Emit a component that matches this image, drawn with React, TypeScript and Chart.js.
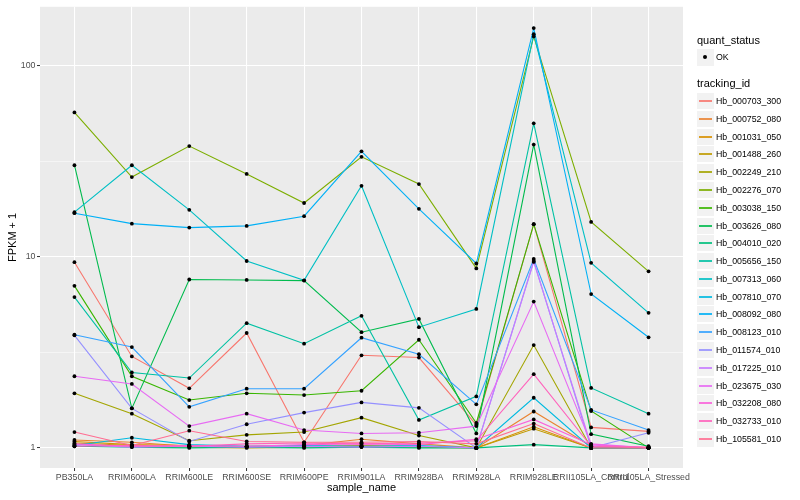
import React, { useEffect, useRef } from 'react';
import { Chart, registerables } from 'chart.js';

Chart.register(...registerables);

const categories = [
  'PB350LA', 'RRIM600LA', 'RRIM600LE', 'RRIM600SE', 'RRIM600PE', 'RRIM901LA',
  'RRIM928BA', 'RRIM928LA', 'RRIM928LE', 'RRII105LA_Control', 'RRII105LA_Stressed',
];

const trackingIds = [
  'Hb_000703_300', 'Hb_000752_080', 'Hb_001031_050', 'Hb_001488_260', 'Hb_002249_210',
  'Hb_002276_070', 'Hb_003038_150', 'Hb_003626_080', 'Hb_004010_020', 'Hb_005656_150',
  'Hb_007313_060', 'Hb_007810_070', 'Hb_008092_080', 'Hb_008123_010', 'Hb_011574_010',
  'Hb_017225_010', 'Hb_023675_030', 'Hb_032208_080', 'Hb_032733_010', 'Hb_105581_010',
];

const colors = [
  '#F8766D', '#EA8331', '#D89000', '#C09B00', '#A3A500', '#7CAE00', '#39B600', '#00BB4E',
  '#00BF7D', '#00C1A3', '#00BFC4', '#00BAE0', '#00B0F6', '#35A2FF', '#9590FF', '#C77CFF',
  '#E76BF3', '#FA62DB', '#FF62BC', '#FF6C91',
];

// FPKM + 1 per sample, one array per tracking_id
const hb000703_300 = [9.36, 3.01, 2.05, 3.99, 1.07, 3.05, 2.97, 1.32, 14.8, 1.28, 1.22];
const hb000752_080 = [1.10, 1.07, 1.02, 1.02, 1.03, 1.11, 1.05, 1.0, 1.55, 1.02, 1.0];
const hb001031_050 = [1.08, 1.04, 1.03, 1.01, 1.02, 1.03, 1.02, 1.0, 1.29, 1.0, 1.0];
const hb001488_260 = [1.06, 1.03, 1.01, 1.0, 1.01, 1.02, 1.01, 1.0, 1.26, 1.0, 1.0];
const hb002249_210 = [1.93, 1.51, 1.09, 1.17, 1.21, 1.44, 1.16, 1.0, 3.45, 1.0, 1.0];
const hb002276_070 = [56.9, 26.1, 37.9, 27.1, 19.1, 33.3, 24.0, 8.69, 142, 15.2, 8.39];
const hb003038_150 = [7.04, 2.37, 1.78, 1.93, 1.89, 1.99, 3.68, 1.35, 14.8, 1.56, 1.0];
const hb003626_080 = [30.1, 1.61, 7.6, 7.56, 7.5, 4.03, 4.73, 1.19, 38.6, 1.18, 1.02];
const hb004010_020 = [1.02, 1.01, 1.0, 1.01, 1.0, 1.01, 1.0, 1.0, 1.04, 1.0, 1.0];
const hb005656_150 = [6.15, 2.48, 2.32, 4.49, 3.51, 4.91, 1.40, 1.86, 49.9, 2.06, 1.51];
const hb007313_060 = [17.1, 30.1, 17.6, 9.5, 7.53, 23.5, 4.28, 5.33, 146, 9.29, 5.09];
const hb007810_070 = [1.03, 1.13, 1.04, 1.02, 1.03, 1.02, 1.03, 1.0, 1.83, 1.0, 1.0];
const hb008092_080 = [16.9, 14.9, 14.2, 14.5, 16.3, 35.6, 17.8, 9.22, 157, 6.38, 3.79];
const hb008123_010 = [3.91, 3.37, 1.64, 2.04, 2.04, 3.77, 3.09, 1.69, 9.73, 1.58, 1.24];
const hb011574_010 = [3.88, 1.61, 1.08, 1.33, 1.53, 1.73, 1.62, 1.0, 9.5, 1.0, 1.2];
const hb017225_010 = [1.04, 1.01, 1.02, 1.01, 1.02, 1.01, 1.02, 1.0, 9.39, 1.03, 1.0];
const hb023675_030 = [2.37, 2.16, 1.30, 1.51, 1.24, 1.19, 1.20, 1.30, 5.83, 1.05, 1.0];
const hb032208_080 = [1.05, 1.02, 1.03, 1.02, 1.04, 1.05, 1.04, 1.11, 1.41, 1.04, 1.0];
const hb032733_010 = [1.02, 1.03, 1.02, 1.05, 1.06, 1.05, 1.06, 1.09, 2.43, 1.02, 1.01];
const hb105581_010 = [1.21, 1.03, 1.23, 1.08, 1.07, 1.07, 1.08, 1.05, 1.34, 1.0, 1.0];

const seriesValues = [
  hb000703_300, hb000752_080, hb001031_050, hb001488_260, hb002249_210,
  hb002276_070, hb003038_150, hb003626_080, hb004010_020, hb005656_150,
  hb007313_060, hb007810_070, hb008092_080, hb008123_010, hb011574_010,
  hb017225_010, hb023675_030, hb032208_080, hb032733_010, hb105581_010,
];

const yMajorTicks = [1, 10, 100];
const yMinorTicks = [Math.sqrt(10), Math.sqrt(1000)];

const FONT = '"Liberation Sans", Arial, Helvetica, sans-serif';

const panelBg = {
  id: 'panelBg',
  beforeDraw(chart: any) {
    const { ctx, chartArea } = chart;
    ctx.save();
    ctx.fillStyle = '#ffffff';
    ctx.fillRect(0, 0, chart.width, chart.height);
    ctx.fillStyle = '#ebebeb';
    ctx.fillRect(chartArea.left, chartArea.top, chartArea.right - chartArea.left, chartArea.bottom - chartArea.top);
    ctx.restore();
  },
};

function Legend() {
  const left = 697;
  const textLeft = 716;
  const keyW = 17;
  const first = 101;
  const step = 17.79;
  const title: React.CSSProperties = { position: 'absolute', left, fontSize: 11, lineHeight: '13px', color: '#000', whiteSpace: 'nowrap' };
  const label: React.CSSProperties = { position: 'absolute', left: textLeft, fontSize: 8.8, lineHeight: '10px', color: '#000', whiteSpace: 'nowrap' };
  return (
    <div style={{ position: 'absolute', left: 0, top: 0, width: 800, height: 500, fontFamily: FONT, pointerEvents: 'none' }}>
      <div style={{ ...title, top: 34 }}>quant_status</div>
      <div style={{ position: 'absolute', left, top: 49, width: keyW, height: keyW, background: '#f2f2f2' }}>
        <div style={{ position: 'absolute', left: 6, top: 6, width: 4, height: 4, borderRadius: '50%', background: '#000' }} />
      </div>
      <div style={{ ...label, top: 52 }}>OK</div>
      <div style={{ ...title, top: 77 }}>tracking_id</div>
      {trackingIds.map((id, i) => {
        const cy = Math.round(first + i * step);
        return (
          <React.Fragment key={id}>
            <div style={{ position: 'absolute', left, top: cy - 8, width: keyW, height: keyW - 1, background: '#f2f2f2' }}>
              <div style={{ position: 'absolute', left: 2, width: keyW - 4, top: 7, height: 2, background: colors[i], opacity: 0.85 }} />
            </div>
            <div style={{ ...label, top: cy - 5 }}>{id}</div>
          </React.Fragment>
        );
      })}
    </div>
  );
}

export default function App() {
  const canvasRef = useRef<HTMLCanvasElement | null>(null);

  useEffect(() => {
    if (!canvasRef.current) return;
    const n = seriesValues.length;
    const lineSets = seriesValues.map((vals, idx) => ({
      label: trackingIds[idx],
      data: vals.map((v, i) => ({ x: i + 1, y: v })),
      borderColor: colors[idx],
      backgroundColor: colors[idx],
      borderWidth: 1.1,
      pointRadius: 0,
      tension: 0,
      fill: false,
      order: n - idx,
    }));
    const pointSet = {
      label: 'OK',
      data: seriesValues.flatMap((vals) => vals.map((v, i) => ({ x: i + 1, y: v }))),
      showLine: false,
      pointRadius: 1.9,
      pointBackgroundColor: '#000',
      pointBorderWidth: 0,
      borderColor: '#000',
      order: -1,
    };

    const chart = new Chart(canvasRef.current, {
      type: 'line',
      data: { datasets: [...lineSets, pointSet] as any },
      plugins: [panelBg],
      options: {
        animation: false,
        responsive: false,
        maintainAspectRatio: false,
        layout: { padding: { top: 5, right: 117, bottom: 0, left: 0 } },
        plugins: { legend: { display: false }, tooltip: { enabled: false } },
        scales: {
          x: {
            type: 'linear',
            min: 0.4,
            max: categories.length + 0.6,
            afterBuildTicks: (s: any) => {
              s.ticks = categories.map((_, i) => ({ value: i + 1 }));
            },
            afterFit: (s: any) => { s.height = 32; },
            ticks: {
              autoSkip: false,
              maxRotation: 0,
              minRotation: 0,
              padding: 1,
              color: '#4d4d4d',
              font: { family: FONT, size: 8.8 },
              callback: (v: any) => categories[Math.round(Number(v)) - 1] ?? '',
            },
            grid: {
              color: '#ffffff',
              lineWidth: 1.07,
              drawTicks: true,
              tickLength: 3,
              tickColor: '#333333',
              tickWidth: 1,
            },
            border: { display: false },
            title: {
              display: true,
              text: 'sample_name',
              color: '#000',
              font: { family: FONT, size: 11 },
              padding: { top: 0, bottom: 5 },
            },
          },
          y: {
            type: 'logarithmic',
            min: 0.785,
            max: 203,
            afterBuildTicks: (s: any) => {
              s.ticks = [...yMajorTicks, ...yMinorTicks].sort((a, b) => a - b).map((v) => ({ value: v }));
            },
            afterFit: (s: any) => { s.width = 40; },
            ticks: {
              autoSkip: false,
              padding: 1.5,
              color: '#4d4d4d',
              font: { family: FONT, size: 8.8 },
              callback: (v: any) => (yMajorTicks.includes(Number(v)) ? String(v) : ''),
            },
            grid: {
              color: '#ffffff',
              lineWidth: (ctx: any) => (yMajorTicks.includes(ctx.tick?.value) ? 1.07 : 0.53),
              drawTicks: true,
              tickLength: 3,
              tickColor: (ctx: any) => (yMajorTicks.includes(ctx.tick?.value) ? '#333333' : 'rgba(0,0,0,0)'),
              tickWidth: 1,
            },
            border: { display: false },
            title: {
              display: true,
              text: 'FPKM + 1',
              color: '#000',
              font: { family: FONT, size: 11 },
              padding: { top: 6, bottom: 0 },
            },
          },
        },
      } as any,
    });
    return () => chart.destroy();
  }, []);

  return (
    <div style={{ position: 'absolute', left: 0, top: 0, width: 800, height: 500, background: '#fff' }}>
      <canvas ref={canvasRef} width={800} height={500} style={{ position: 'absolute', left: 0, top: 0, width: 800, height: 500 }} />
      <Legend />
    </div>
  );
}
